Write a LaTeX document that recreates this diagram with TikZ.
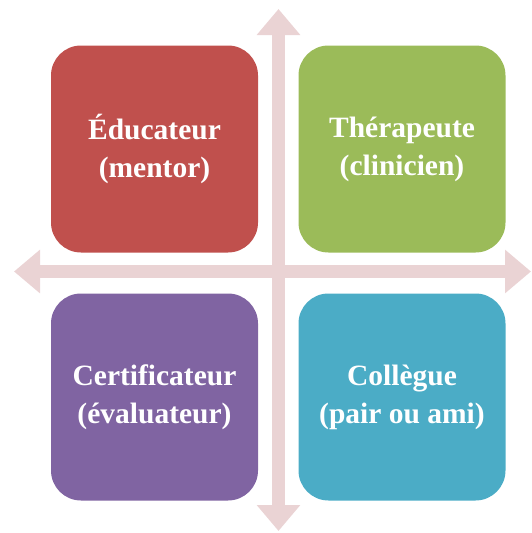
\documentclass[tikz,border=0pt]{standalone}
\usepackage{fontspec}
\setmainfont{Liberation Serif}
\usetikzlibrary{arrows.meta}
\definecolor{rolered}{RGB}{192,80,77}
\definecolor{rolegreen}{RGB}{155,187,89}
\definecolor{rolepurple}{RGB}{128,100,162}
\definecolor{roleblue}{RGB}{75,172,198}
\definecolor{axispink}{RGB}{234,211,212}

\begin{document}
\begin{tikzpicture}[x=1pt, y=-1pt]
					\tikzstyle{box}=[rectangle, rounded corners=30pt, minimum width=207pt, minimum height=207pt, inner sep=0pt, text=white, align=center, font=\fontsize{29.5}{38}\selectfont\bfseries]
					\tikzstyle{axis}=[draw=axispink, line width=13pt, {Triangle[width=42pt,length=26pt]}-{Triangle[width=42pt,length=26pt]}]
					\useasboundingbox (0,0) rectangle (532,533);
					
					% Draw axes
					\coordinate (top) at (278.5,9);
					\coordinate (bottom) at (278.5,531);
					\coordinate (left) at (14,271.5);
					\coordinate (right) at (531,271.5);
					\draw[axis] (top) -- (bottom);
					\draw[axis] (left) -- (right);
					
					% Draw different roles
					\node[box,fill=rolered] (educateur) at (154.5,149) {Éducateur\\(mentor)};
					\node[box,fill=rolegreen] (therapeute) at (402,149) {Thérapeute\\(clinicien)};
					\node[box,fill=rolepurple] (certificateur) at (154.5,397) {Certificateur\\(évaluateur)};
					\node[box,fill=roleblue] (collegue) at (402,397) {Collègue\\(pair ou ami)};
					
				\end{tikzpicture}
\end{document}
